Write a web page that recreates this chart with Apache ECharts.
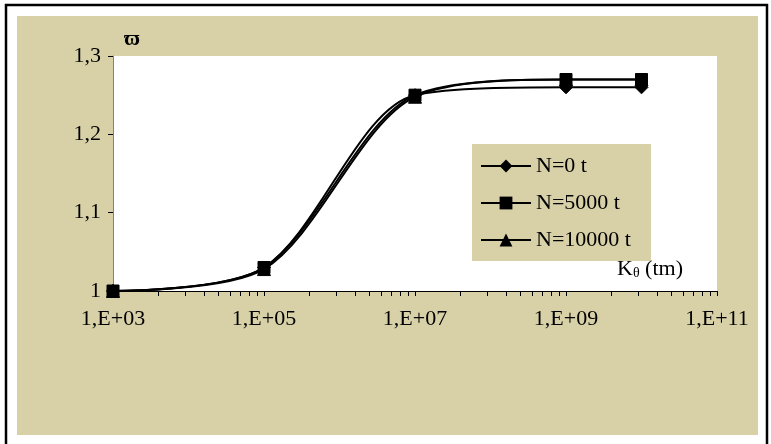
<!DOCTYPE html>
<html>
<head>
<meta charset="utf-8">
<script src="https://cdn.jsdelivr.net/npm/echarts@6/dist/echarts.min.js"></script>
<style>
html,body{margin:0;padding:0;background:#fff;}
#chart{width:771px;height:444px;}
</style>
</head>
<body>
<div id="chart"></div>
<script>
// ---- data ----
const kTheta = [1e3, 1e5, 1e7, 1e9, 1e10];
const seriesNames = ['N=0 t', 'N=5000 t', 'N=10000 t'];
const omegaN0 = [1.000, 1.030, 1.250, 1.260, 1.260];
const omegaN5000 = [1.000, 1.030, 1.250, 1.270, 1.270];
const omegaN10000 = [1.000, 1.028, 1.248, 1.270, 1.270];
const xTickValues = [1e3, 1e5, 1e7, 1e9, 1e11];
const yTickValues = [1, 1.1, 1.2, 1.3];

// minor ticks (Excel style: k^2 steps inside each 2-decade major interval)
const xMinorTicks = [];
for (let i = 0; i < xTickValues.length - 1; i++) {
  for (let k = 2; k <= 9; k++) xMinorTicks.push(xTickValues[i] * k * k);
}
const allXTicks = xTickValues.concat(xMinorTicks);

const FONT = '"Liberation Serif", "DejaVu Serif", serif';
const BEIGE = '#D8D1A8';

function pairs(ys) { return kTheta.map((x, i) => [x, ys[i]]); }

const chart = echarts.init(document.getElementById('chart'), null, {renderer: 'canvas'});
const symbols = ['diamond', 'rect', 'triangle'];
const values = [omegaN0, omegaN5000, omegaN10000];
const sizes = [13, 12, 13];
const zs = [3, 5, 4];

const option = {
  animation: false,
  backgroundColor: '#fff',
  graphic: [
    {type: 'rect', z: -10, shape: {x: 6, y: 5, width: 761, height: 460}, style: {fill: '#fff', stroke: '#000', lineWidth: 2.5}},
    {type: 'rect', z: -9, shape: {x: 17, y: 16, width: 741, height: 419}, style: {fill: BEIGE}},
    {type: 'rect', z: 1, shape: {x: 472, y: 144, width: 179, height: 117}, style: {fill: BEIGE}},
    {type: 'text', z: 10, left: 124, top: 28, style: {text: 'ϖ', font: 'bold 22px ' + FONT, fill: '#000'}},
    {type: 'text', z: 10, left: 617, top: 258, style: {
      text: '{k|K}{s|θ}{k| (tm)}',
      rich: {
        k: {fontFamily: FONT, fontSize: 22, fill: '#000', verticalAlign: 'bottom'},
        s: {fontFamily: FONT, fontSize: 14, fill: '#000', padding: [8, 0, 0, 0], verticalAlign: 'bottom'}
      }
    }}
  ],
  grid: {left: 113, top: 56, width: 604, height: 235, show: true, backgroundColor: '#fff', borderWidth: 0, containLabel: false},
  legend: {
    orient: 'vertical', left: 480, top: 155, itemWidth: 50, itemHeight: 16, itemGap: 15, padding: 0,
    data: seriesNames,
    textStyle: {fontFamily: FONT, fontSize: 22, color: '#000', lineHeight: 16}
  },
  xAxis: {
    type: 'log', logBase: 10, min: 1e3, max: 1e11,
    axisLine: {lineStyle: {color: '#000', width: 1}},
    axisTick: {show: true, inside: false, length: 5, customValues: allXTicks, lineStyle: {color: '#000'}},
    axisLabel: {customValues: xTickValues, margin: 17, fontFamily: FONT, fontSize: 22, color: '#000',
      formatter: v => '1,E+' + String(Math.round(Math.log10(v))).padStart(2, '0')},
    splitLine: {show: false}
  },
  yAxis: {
    type: 'value', min: 1, max: 1.3, interval: 0.1,
    axisLine: {show: true, lineStyle: {color: '#808080', width: 1}},
    axisTick: {show: true, inside: false, length: 5, lineStyle: {color: '#000'}},
    axisLabel: {margin: 12, fontFamily: FONT, fontSize: 22, color: '#000',
      formatter: v => (Math.abs(v - 1) < 1e-9 ? '1' : v.toFixed(1).replace('.', ','))},
    splitLine: {show: false}
  },
  series: seriesNames.map((name, i) => ({
    name: name, type: 'line', smooth: 0.3, z: zs[i],
    symbol: symbols[i], symbolSize: sizes[i], showAllSymbol: true,
    lineStyle: {color: '#000', width: 2},
    itemStyle: {color: '#000', borderColor: '#000'},
    data: pairs(values[i])
  }))
};
chart.setOption(option);
</script>
</body>
</html>
